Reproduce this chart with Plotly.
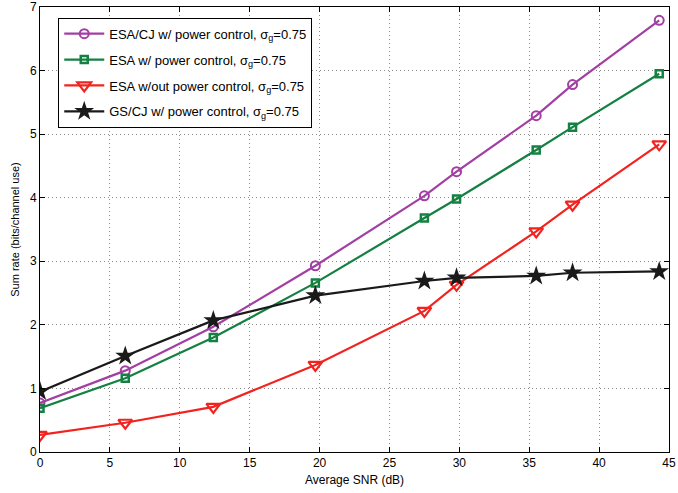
import plotly.graph_objects as go

snr = [0, 6.1, 12.4, 19.7, 27.5, 29.8, 35.5, 38.1, 44.3]
esa_cj = [0.77, 1.28, 1.97, 2.93, 4.03, 4.41, 5.29, 5.78, 6.79]
esa_pc = [0.69, 1.16, 1.80, 2.66, 3.68, 3.98, 4.75, 5.11, 5.95]
esa_nopc = [0.27, 0.46, 0.71, 1.37, 2.22, 2.63, 3.47, 3.89, 4.84]
gs_cj = [0.95, 1.51, 2.07, 2.46, 2.69, 2.74, 2.77, 2.82, 2.84]

names = [
    "ESA/CJ w/ power control, σ<sub>g</sub>=0.75",
    "ESA w/ power control, σ<sub>g</sub>=0.75",
    "ESA w/out power control, σ<sub>g</sub>=0.75",
    "GS/CJ w/ power control, σ<sub>g</sub>=0.75",
]

fig = go.Figure()
styles = [
    (esa_cj, "#A23FA3", dict(symbol="circle-open", size=9, line=dict(width=2))),
    (esa_pc, "#148042", dict(symbol="square-open", size=7, line=dict(width=2.5))),
    (esa_nopc, "#F2231F", dict(symbol="triangle-down-open", size=12, line=dict(width=2.2))),
    (gs_cj, "#1A1A1A", dict(symbol="star", size=15, line=dict(width=0))),
]
for i, (name, (ys, col, mk)) in enumerate(zip(names, styles)):
    mk = dict(mk, color=col)
    mk["line"] = dict(mk["line"], color=col)
    fig.add_trace(go.Scatter(x=snr, y=ys, mode="lines+markers", name=name,
                             legendgroup=f"g{i}",
                             line=dict(color=col, width=2.2), marker=mk))

axis_common = dict(showline=True, linecolor="black", linewidth=1, mirror="ticks",
                   ticks="inside", ticklen=5, tickcolor="black", automargin=False,
                   showgrid=True, gridcolor="#8a8a8a", griddash="1px,3px", gridwidth=1,
                   zeroline=False, tickfont=dict(family="Liberation Sans, Arial", size=12, color="black"))

fig.update_layout(
    width=678, height=493,
    margin=dict(l=40, r=9, t=7, b=41),
    paper_bgcolor="white", plot_bgcolor="white",
    font=dict(family="Liberation Sans, Arial", size=12, color="black"),
    xaxis=dict(range=[0, 45], dtick=5, title=dict(text="Average SNR (dB)", standoff=6,
               font=dict(size=12)), **axis_common),
    yaxis=dict(range=[0, 7], dtick=1, title=dict(text="Sum rate (bits/channel use)", standoff=8,
               font=dict(size=11)), **axis_common),
    legend=dict(x=0.029, y=0.976, xanchor="left", yanchor="top",
                bordercolor="black", borderwidth=1, bgcolor="white",
                font=dict(size=13), itemwidth=40, tracegroupgap=6),
    showlegend=True,
)

fig.write_html("out.html", config={"displayModeBar": False},
               post_script="document.body.style.margin='0';document.body.style.overflow='hidden';")
